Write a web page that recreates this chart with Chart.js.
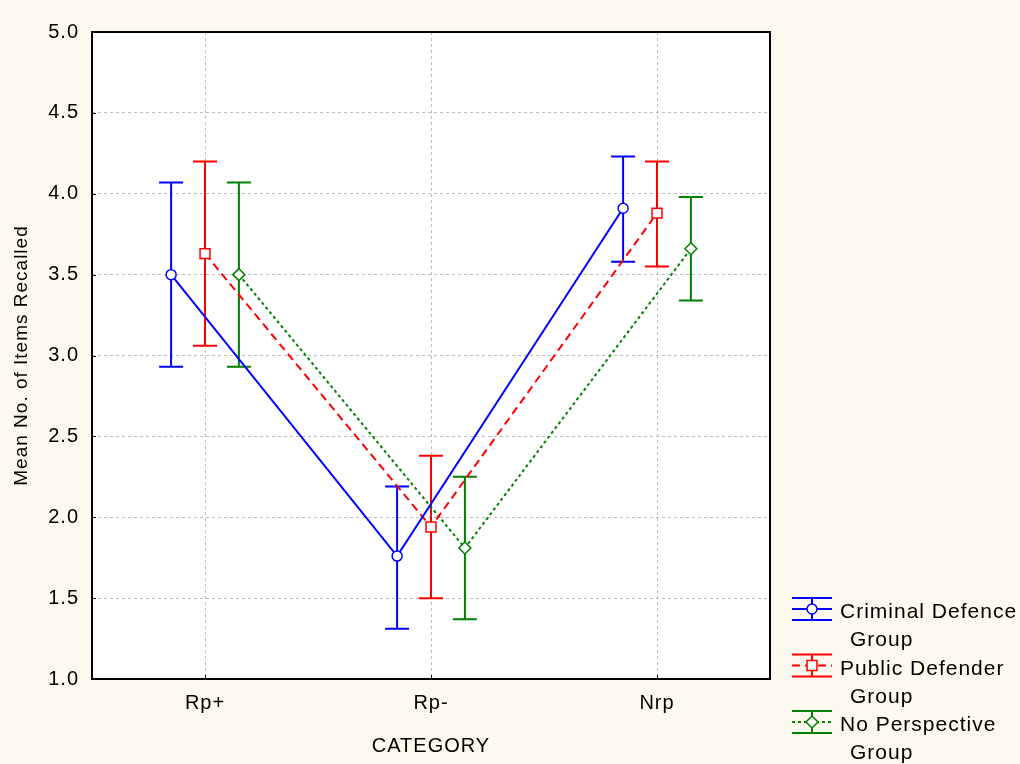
<!DOCTYPE html>
<html>
<head>
<meta charset="utf-8">
<script src="https://cdn.jsdelivr.net/npm/chart.js@4/dist/chart.umd.min.js"></script>
<style>
  html, body { margin: 0; padding: 0; background: #fdf9ee; }
  #wrap { width: 1020px; height: 764px; position: relative; }
</style>
</head>
<body>
<div id="wrap"><canvas id="chart" width="1020" height="764"></canvas></div>
<script>
// ------------------------------------------------------------
// Mean items recalled by category, per perspective group
// ------------------------------------------------------------
const categories = ["Rp+", "Rp-", "Nrp"];
const yTicks = [1.0, 1.5, 2.0, 2.5, 3.0, 3.5, 4.0, 4.5, 5.0];

const criminalMean = [3.50, 1.76, 3.91];
const criminalLow  = [2.93, 1.31, 3.58];
const criminalHigh = [4.07, 2.19, 4.23];

const publicMean = [3.63, 1.94, 3.88];
const publicLow  = [3.06, 1.50, 3.55];
const publicHigh = [4.20, 2.38, 4.20];

const noneMean = [3.50, 1.81, 3.66];
const noneLow  = [2.93, 1.37, 3.34];
const noneHigh = [4.07, 2.25, 3.98];

const groupOffset = 0.15; // side-by-side shift inside a category
const FONT = "'Liberation Sans', Arial, sans-serif";

function pts(means, shift) {
  return means.map((v, i) => ({ x: i + shift, y: v }));
}

const groups = [
  { label: ["Criminal Defence", "Group"], color: "#0000ff", dash: [], point: "circle", radius: 5,
    data: pts(criminalMean, -groupOffset), low: criminalLow, high: criminalHigh, shift: -groupOffset },
  { label: ["Public Defender", "Group"], color: "#ff0000", dash: [8, 5], point: "rect", radius: 7,
    data: pts(publicMean, 0), low: publicLow, high: publicHigh, shift: 0 },
  { label: ["No Perspective", "Group"], color: "#008000", dash: [3, 3], point: "rectRot", radius: 6,
    data: pts(noneMean, groupOffset), low: noneLow, high: noneHigh, shift: groupOffset }
];

// error bars behind the markers
const errorBars = {
  id: "errorBars",
  beforeDatasetsDraw(chart) {
    const { ctx, scales: { x, y } } = chart;
    ctx.save();
    ctx.lineWidth = 2;
    groups.forEach(g => {
      ctx.strokeStyle = g.color;
      g.low.forEach((lo, i) => {
        const px = x.getPixelForValue(i + g.shift);
        const y1 = y.getPixelForValue(lo);
        const y2 = y.getPixelForValue(g.high[i]);
        ctx.beginPath();
        ctx.moveTo(px, y1); ctx.lineTo(px, y2);
        ctx.moveTo(px - 12, y1); ctx.lineTo(px + 12, y1);
        ctx.moveTo(px - 12, y2); ctx.lineTo(px + 12, y2);
        ctx.stroke();
      });
    });
    ctx.restore();
  }
};

// frame, inward ticks, legend
const frameAndLegend = {
  id: "frameAndLegend",
  beforeDraw(chart) {
    const { ctx, chartArea: a } = chart;
    ctx.save();
    ctx.fillStyle = "#ffffff";
    ctx.fillRect(a.left, a.top, a.right - a.left, a.bottom - a.top);
    ctx.restore();
    ctx.letterSpacing = "1px";
  },
  afterDraw(chart) {
    const { ctx, chartArea: a, scales: { x, y } } = chart;
    ctx.save();
    ctx.strokeStyle = "#000";
    ctx.lineWidth = 1;
    ctx.beginPath();
    yTicks.forEach(v => {
      const py = Math.round(y.getPixelForValue(v)) + 0.5;
      ctx.moveTo(a.left, py); ctx.lineTo(a.left + 4, py);
    });
    [0, 1, 2].forEach(v => {
      const px = Math.round(x.getPixelForValue(v)) + 0.5;
      ctx.moveTo(px, a.bottom); ctx.lineTo(px, a.bottom - 4);
    });
    ctx.stroke();
    ctx.lineWidth = 2;
    ctx.strokeRect(a.left, a.top, a.right - a.left, a.bottom - a.top);

    // legend
    const lx = 792, lw = 40, mx = lx + lw / 2;
    groups.forEach((g, k) => {
      const cy = 609 + k * 56.5;
      ctx.strokeStyle = g.color;
      ctx.lineWidth = 2;
      ctx.setLineDash([]);
      ctx.beginPath();
      ctx.moveTo(lx, cy - 11); ctx.lineTo(lx + lw, cy - 11);
      ctx.moveTo(lx, cy + 11); ctx.lineTo(lx + lw, cy + 11);
      ctx.moveTo(mx, cy - 11); ctx.lineTo(mx, cy + 11);
      ctx.stroke();
      ctx.setLineDash(g.dash);
      ctx.beginPath();
      ctx.moveTo(lx, cy); ctx.lineTo(lx + lw, cy);
      ctx.stroke();
      ctx.setLineDash([]);
      ctx.fillStyle = "#ffffff";
      ctx.lineWidth = 1.5;
      ctx.beginPath();
      const r = g.radius;
      if (g.point === "circle") ctx.arc(mx, cy, r, 0, Math.PI * 2);
      else if (g.point === "rect") { const s = r * Math.SQRT1_2; ctx.rect(mx - s, cy - s, 2 * s, 2 * s); }
      else { ctx.moveTo(mx, cy - r); ctx.lineTo(mx + r, cy); ctx.lineTo(mx, cy + r); ctx.lineTo(mx - r, cy); ctx.closePath(); }
      ctx.fill(); ctx.stroke();

      ctx.fillStyle = "#000";
      ctx.font = "21px " + FONT;
      ctx.textBaseline = "alphabetic";
      ctx.textAlign = "left";
      ctx.fillText(g.label[0], 840, cy + 9);
      ctx.fillText(g.label[1], 850, cy + 37);
    });
    ctx.restore();
  }
};

new Chart(document.getElementById("chart"), {
  type: "line",
  data: {
    datasets: groups.map(g => ({
      label: g.label.join(" "),
      data: g.data,
      borderColor: g.color,
      borderWidth: 2,
      borderDash: g.dash,
      pointStyle: g.point,
      pointRadius: g.radius,
      pointHoverRadius: g.radius,
      pointBackgroundColor: "#ffffff",
      pointBorderColor: g.color,
      pointBorderWidth: 1.5,
      tension: 0,
      fill: false
    }))
  },
  options: {
    responsive: false,
    animation: false,
    layout: { padding: { left: 0, top: 32, right: 250, bottom: 0 } },
    plugins: { legend: { display: false }, tooltip: { enabled: false } },
    scales: {
      x: {
        type: "linear",
        min: -0.5,
        max: 2.5,
        afterBuildTicks: s => { s.ticks = categories.map((c, i) => ({ value: i })); },
        afterFit: s => { s.height = 85; },
        ticks: {
          color: "#000",
          padding: 12,
          font: { size: 20, family: FONT },
          callback: v => categories[v]
        },
        grid: { color: "#bdbdbd", drawTicks: false },
        border: { display: false, dash: [3, 3] },
        title: {
          display: true, text: "CATEGORY", color: "#000",
          font: { size: 20, family: FONT }, padding: { top: 0, bottom: 6 }
        }
      },
      y: {
        min: 1,
        max: 5,
        afterBuildTicks: s => { s.ticks = yTicks.map(v => ({ value: v })); },
        afterFit: s => { s.width = 92; },
        ticks: {
          color: "#000",
          padding: 13,
          font: { size: 20, family: FONT },
          callback: v => Number(v).toFixed(1)
        },
        grid: { color: "#bdbdbd", drawTicks: false },
        border: { display: false, dash: [3, 3] },
        title: {
          display: true, text: "Mean No. of Items Recalled", color: "#000",
          font: { size: 19, family: FONT }, padding: { top: 10, bottom: 4 }
        }
      }
    }
  },
  plugins: [frameAndLegend, errorBars]
});
</script>
</body>
</html>
